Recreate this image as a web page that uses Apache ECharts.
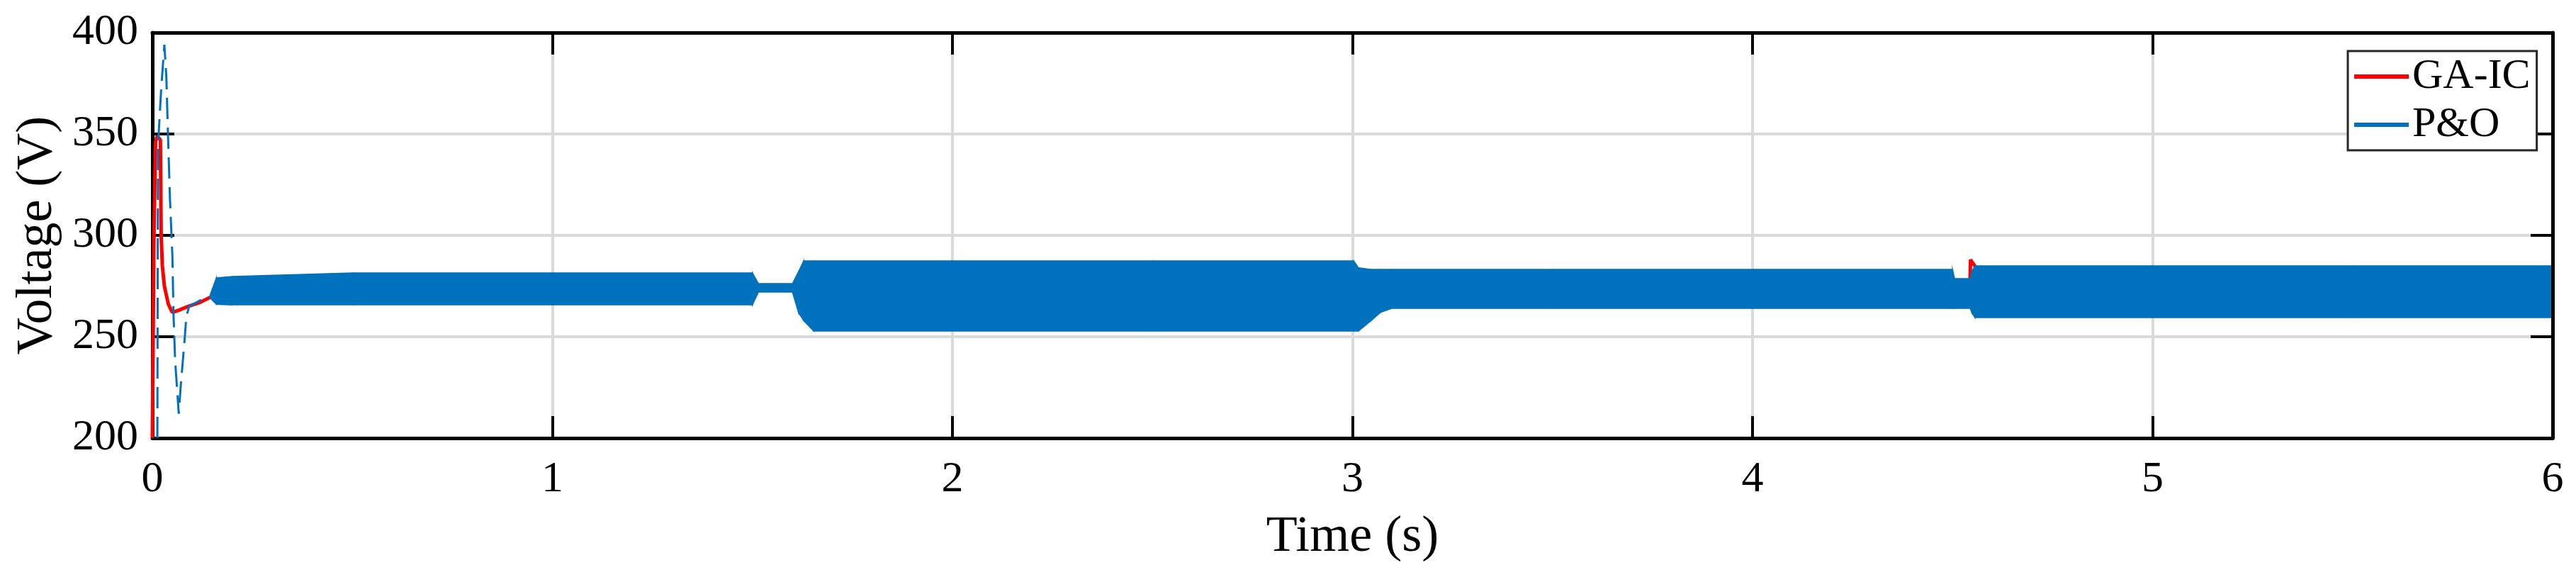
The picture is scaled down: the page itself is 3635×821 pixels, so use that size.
<!DOCTYPE html>
<html>
<head>
<meta charset="utf-8">
<title>Voltage GA-IC vs P&amp;O</title>
<script src="https://cdn.jsdelivr.net/npm/echarts@6/dist/echarts.min.js"></script>
<style>
  html, body { margin: 0; padding: 0; background: #fff; }
  #chart { width: 3635px; height: 821px; }
</style>
</head>
<body>
<div id="chart"></div>
<script>
// values
var timeTicks = [0, 1, 2, 3, 4, 5, 6]
var voltTicks = [200, 250, 300, 350, 400]

// GA-IC (red) - mostly hidden behind the P&O band
var gaTime = [0, 0.004, 0.008, 0.012, 0.02, 0.022, 0.025, 0.03, 0.04, 0.05, 0.065, 0.09, 0.12, 0.15, 0.17,
  0.5, 1.0, 1.5, 1.6, 1.62, 2.0, 2.5, 3.0, 3.5, 4.0, 4.5, 4.543, 4.545, 4.548, 4.575, 4.59, 5.0, 5.5, 6.0]
var gaVolt = [200, 300, 346, 349, 347, 300, 285, 275, 266, 262, 263, 265, 267, 270, 272,
  274, 274, 274, 274, 268, 270, 270, 270, 273, 273, 274, 273, 288, 287, 280, 273, 272, 272, 272]

// P&O start-up transient (thin line before the oscillation band)
var poTime = [0.0125, 0.014, 0.022, 0.030, 0.035, 0.039, 0.044, 0.050, 0.053, 0.057, 0.066, 0.071, 0.080, 0.085, 0.092, 0.12, 0.14, 0.145]
var poVolt = [200, 344, 372, 394, 378, 350, 318, 290, 260, 238, 212, 226, 247, 260, 265, 268, 269, 270]

// P&O oscillation envelope (upper / lower edge of the band)
var bandTime  = [0.145, 0.16, 0.2, 0.5, 1.0, 1.50, 1.515, 1.60, 1.615, 1.628, 1.653, 2.0, 2.5, 3.003, 3.015, 3.047, 3.07, 3.098, 3.5, 4.0, 4.50, 4.505, 4.544, 4.548, 4.556, 5.0, 5.5, 6.0]
var bandUpper = [271, 279, 279.7, 281.5, 281.5, 281.5, 276.2, 276.2, 282, 287.4, 287.4, 287.4, 287.4, 287.4, 284, 283.2, 283.2, 283.2, 283.2, 283.2, 283.2, 278.7, 278.7, 282, 285, 285, 285, 285]
var bandLower = [269, 266, 265.7, 265.7, 265.7, 265.7, 272, 272, 262, 258, 252.8, 252.8, 252.8, 252.8, 252.8, 258, 262, 264, 264, 264, 264, 264, 264, 262, 259.4, 259.4, 259.4, 259.4]

var FONT = "'Liberation Serif', 'Times New Roman', serif"
var BLUE = '#0072BD'
var RED = '#FF0000'

function pairs(xs, ys) {
  return xs.map(function (x, i) { return [x, ys[i]] })
}

var chart = echarts.init(document.getElementById('chart'), null, { renderer: 'canvas' })

var axisBase = {
  axisLine: { show: true, onZero: false, lineStyle: { color: '#000', width: 5 } },
  axisTick: { show: true, inside: true, length: 31, lineStyle: { color: '#000', width: 4 } }
}

// one quad of the P&O band between sample i and i+1
function renderBand(params, api) {
  var i = params.dataIndex
  if (i >= bandTime.length - 1) return null
  var a = api.coord([bandTime[i], bandUpper[i]])
  var b = api.coord([bandTime[i + 1], bandUpper[i + 1]])
  var c = api.coord([bandTime[i + 1], bandLower[i + 1]])
  var d = api.coord([bandTime[i], bandLower[i]])
  return {
    type: 'polygon',
    shape: { points: [a, b, c, d] },
    style: { fill: BLUE, stroke: BLUE, lineWidth: 1.5 }
  }
}

chart.setOption({
  animation: false,
  backgroundColor: '#fff',
  textStyle: { fontFamily: FONT },
  grid: { left: 215, right: 33, top: 46, bottom: 203, containLabel: false },
  legend: {
    data: ['GA-IC', 'P&O'],
    orient: 'vertical',
    left: 3313,
    top: 72,
    z: 10,
    icon: 'rect',
    itemWidth: 77,
    itemHeight: 6,
    itemGap: 8,
    padding: [6, 9, 6, 9],
    backgroundColor: '#fff',
    borderColor: '#262626',
    borderWidth: 3,
    textStyle: { fontFamily: FONT, fontSize: 60, color: '#000' }
  },
  xAxis: [
    Object.assign({}, axisBase, {
      type: 'value',
      position: 'bottom',
      min: 0,
      max: 6,
      interval: 1,
      name: 'Time (s)',
      nameLocation: 'middle',
      nameGap: 104,
      nameTextStyle: { fontFamily: FONT, fontSize: 72, color: '#000' },
      axisLabel: {
        margin: 28, fontFamily: FONT, fontSize: 62, color: '#000',
        formatter: function (v) { return timeTicks.indexOf(v) >= 0 ? String(v) : '' }
      },
      splitLine: { show: true, lineStyle: { color: '#dadada', width: 4 } }
    }),
    Object.assign({}, axisBase, {
      type: 'value',
      position: 'top',
      z: 5,
      min: 0,
      max: 6,
      interval: 1,
      axisLabel: { show: false },
      splitLine: { show: false }
    })
  ],
  yAxis: [
    Object.assign({}, axisBase, {
      type: 'value',
      position: 'left',
      min: 200,
      max: 400,
      interval: 50,
      name: 'Voltage (V)',
      nameLocation: 'middle',
      nameGap: 126,
      nameTextStyle: { fontFamily: FONT, fontSize: 72, color: '#000' },
      axisLabel: {
        margin: 20, fontFamily: FONT, fontSize: 62, color: '#000',
        formatter: function (v) { return voltTicks.indexOf(v) >= 0 ? String(v) : '' }
      },
      splitLine: { show: true, lineStyle: { color: '#dadada', width: 4 } }
    }),
    Object.assign({}, axisBase, {
      type: 'value',
      position: 'right',
      z: 5,
      min: 200,
      max: 400,
      interval: 50,
      axisLabel: { show: false },
      splitLine: { show: false }
    })
  ],
  series: [
    {
      name: 'GA-IC',
      type: 'line',
      z: 1,
      color: RED,
      showSymbol: false,
      symbol: 'none',
      lineStyle: { color: RED, width: 5 },
      data: pairs(gaTime, gaVolt)
    },
    {
      name: 'P&O',
      type: 'line',
      z: 2,
      color: BLUE,
      showSymbol: false,
      symbol: 'none',
      lineStyle: { color: BLUE, width: 3, type: [30, 12] },
      data: pairs(poTime, poVolt)
    },
    {
      name: 'P&O',
      type: 'custom',
      z: 3,
      color: BLUE,
      renderItem: renderBand,
      encode: { x: 0, y: [1, 2] },
      data: bandTime.map(function (t, i) { return [t, bandUpper[i], bandLower[i]] })
    }
  ]
})
</script>
</body>
</html>
